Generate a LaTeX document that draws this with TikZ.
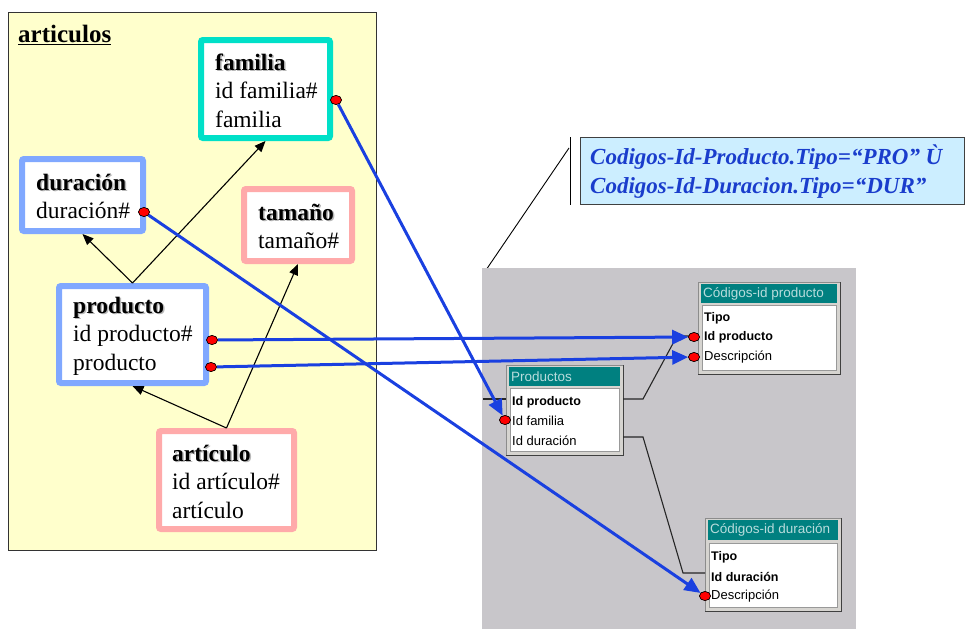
\documentclass[tikz,border=0pt]{standalone}
\usepackage{fontspec}
\setmainfont{Liberation Serif}
\newfontfamily\winfont{Liberation Sans}
\usetikzlibrary{arrows.meta,shapes.geometric}

\definecolor{panelyellow}{HTML}{FFFFCC}
\definecolor{famteal}{HTML}{00E0C8}
\definecolor{durblue}{HTML}{80A8FF}
\definecolor{tampink}{HTML}{FFAAAA}
\definecolor{linkblue}{HTML}{1A40E0}
\definecolor{accgray}{HTML}{C8C6CA}
\definecolor{wingray}{HTML}{D6D4D0}
\definecolor{winteal}{HTML}{008080}
\definecolor{wintext}{HTML}{B8DCDC}
\definecolor{notefill}{HTML}{CCEEFF}
\definecolor{notetext}{HTML}{1A3DCC}

% bold heading with a soft grey drop shadow
\newcommand\shadowtitle[1]{\rlap{\textcolor{black!28}{\kern1.5pt\raisebox{-1.5pt}{\textbf{#1}}}}\textbf{#1}}

\begin{document}
\begin{tikzpicture}[x=1pt,y=-1pt,
  entity/.style={draw, line width=6pt, fill=white, rounded corners=2pt, inner sep=0pt},
  entitytext/.style={anchor=west, align=left, inner sep=0pt, font=\fontsize{23.5}{28.5}\selectfont},
  reddot/.style={ellipse, draw=black, line width=0.6pt, fill=red, minimum width=11pt, minimum height=9pt, inner sep=0pt},
  isa/.style={draw=black, line width=1.1pt, -{Triangle[length=11pt,width=9pt]}},
  link/.style={draw=linkblue, line width=3pt, -{Triangle[length=16pt,width=14pt]}},
  winframe/.style={fill=wingray, draw=black!45, line width=0.6pt, inner sep=0pt},
  wintitle/.style={fill=winteal, inner sep=0pt},
  winbody/.style={fill=white, draw=black!40, line width=0.6pt, inner sep=0pt},
  titletext/.style={anchor=west, inner sep=0pt, text=wintext, font=\winfont\fontsize{13.5}{15}\selectfont},
  field/.style={anchor=west, inner sep=0pt, font=\winfont\fontsize{13}{15}\selectfont},
  keyfield/.style={field, font=\winfont\bfseries\fontsize{12.5}{15}\selectfont},
  rel/.style={draw=black!85, line width=1.1pt},
  notebox/.style={draw=black!75, line width=0.8pt, fill=notefill, inner sep=0pt}
]
\useasboundingbox (0,0) rectangle (965,629);

% ---------------- conceptual model panel ----------------
\node[draw=black!80, line width=0.8pt, fill=panelyellow, anchor=north west,
      minimum width=368, minimum height=538, inner sep=0pt] (panel) at (8,12) {};
\node[anchor=west, inner sep=0pt, font=\bfseries\fontsize{25}{30}\selectfont] (ptitle) at (18,35) {\underline{articulos}};

\node[entity, draw=famteal, minimum width=129, minimum height=98] (fam) at (265.5,89) {};
\node[entitytext] (famtxt) at ([xshift=17pt,yshift=-1.5pt]fam.west) {\shadowtitle{familia}\\id familia\#\\familia};

\node[entity, draw=durblue, minimum width=121, minimum height=72] (dur) at (82.5,195) {};
\node[entitytext] (durtxt) at ([xshift=17pt,yshift=-1.5pt]dur.west) {\shadowtitle{duración}\\duración\#};

\node[entity, draw=tampink, minimum width=108, minimum height=72] (tam) at (298,225) {};
\node[entitytext] (tamtxt) at ([xshift=17pt,yshift=-1.5pt]tam.west) {\shadowtitle{tamaño}\\tamaño\#};

\node[entity, draw=durblue, minimum width=147, minimum height=97] (prod) at (132.5,334.5) {};
\node[entitytext] (prodtxt) at ([xshift=17pt,yshift=-1.5pt]prod.west) {\shadowtitle{producto}\\id producto\#\\producto};

\node[entity, draw=tampink, minimum width=135, minimum height=98] (art) at (226.5,480) {};
\node[entitytext] (arttxt) at ([xshift=16pt,yshift=-1.5pt]art.west) {\shadowtitle{artículo}\\id artículo\#\\artículo};

% generalisation arrows
\draw[isa] (prod.north) -- (dur.south);
\draw[isa] (prod.north) -- (fam.south);
\draw[isa] (art.north) -- (prod.south);
\draw[isa] (art.north) -- (tam.south);

% ---------------- callout ----------------
\node[notebox, anchor=north west, minimum width=384, minimum height=67] (note) at (580,137) {};
\node[anchor=west, align=left, inner sep=0pt, text=notetext,
      font=\bfseries\itshape\fontsize{23}{29}\selectfont] (notetxt) at (590,172)
      {Codigos-Id-Producto.Tipo=“PRO” Ù\\Codigos-Id-Duracion.Tipo=“DUR”};
\coordinate (barTop) at (570,137);
\coordinate (barBot) at (570,205);
\coordinate (barJoin) at (569,148);
\coordinate (ptrTip) at (486,270);
\draw[black, line width=0.9pt] (barTop) -- (barBot);
\draw[black, line width=0.9pt] (ptrTip) -- (barJoin);

% ---------------- relationships screen ----------------
\node[fill=accgray, anchor=north west, minimum width=374, minimum height=361, inner sep=0pt] (screen) at (482,268) {};

% Códigos-id producto
\node[winframe, anchor=north west, minimum width=142, minimum height=92] (cp) at (698,282) {};
\draw[black!75, line width=1.6pt] (cp.north east) -- (cp.south east) -- (cp.south west);
\node[wintitle, anchor=north west, minimum width=136, minimum height=19] (cpT) at (701,284) {};
\node[titletext] (cpTt) at ([xshift=2pt]cpT.west) {Códigos-id producto};
\node[winbody, anchor=north west, minimum width=134, minimum height=65] (cpB) at (702,305) {};
\node[keyfield] (cpF1) at (704,318) {Tipo};
\node[keyfield] (cpF2) at (704,337) {Id producto};
\node[field] (cpF3) at (704,357) {Descripción};

% Productos
\node[winframe, anchor=north west, minimum width=117, minimum height=90] (pr) at (506,365) {};
\draw[black!75, line width=1.6pt] (pr.north east) -- (pr.south east) -- (pr.south west);
\node[wintitle, anchor=north west, minimum width=111, minimum height=19] (prT) at (509,367) {};
\node[titletext] (prTt) at ([xshift=2pt]prT.west) {Productos};
\node[winbody, anchor=north west, minimum width=109, minimum height=63] (prB) at (510,388) {};
\node[keyfield] (prF1) at (512,402) {Id producto};
\node[field] (prF2) at (512,421) {Id familia};
\node[field] (prF3) at (512,441) {Id duración};

% Códigos-id duración
\node[winframe, anchor=north west, minimum width=136, minimum height=93] (cd) at (705,518) {};
\draw[black!75, line width=1.6pt] (cd.north east) -- (cd.south east) -- (cd.south west);
\node[wintitle, anchor=north west, minimum width=130, minimum height=20] (cdT) at (708,520) {};
\node[titletext] (cdTt) at ([xshift=2pt]cdT.west) {Códigos-id duración};
\node[winbody, anchor=north west, minimum width=128, minimum height=64] (cdB) at (709,543) {};
\node[keyfield] (cdF1) at (711,557) {Tipo};
\node[keyfield] (cdF2) at (711,577) {Id duración};
\node[field] (cdF3) at (711,596) {Descripción};

% join lines between the tables
\coordinate (r0a) at (483,399);
\coordinate (r1a) at (623,399);
\coordinate (r1b) at (643,399);
\coordinate (r1c) at (677,336);
\coordinate (r1d) at (698,336);
\coordinate (r2a) at (623,437);
\coordinate (r2b) at (643,437);
\coordinate (r2c) at (683,573);
\coordinate (r2d) at (705,573);
\draw[rel] (r0a) -- (pr.west |- r0a);
\draw[rel] (r1a) -- (r1b) -- (r1c) -- (r1d);
\draw[rel] (r2a) -- (r2b) -- (r2c) -- (r2d);

% ---------------- attribute links ----------------
\node[reddot] (dFam) at (336,100) {};
\node[reddot] (dDur) at (144,212) {};
\node[reddot] (dProdId) at (212,340) {};
\node[reddot] (dProdNm) at (211,367) {};
\node[reddot] (dPrFam) at (505,420) {};
\node[reddot] (dCpId) at (694,337) {};
\node[reddot] (dCpDesc) at (694,357) {};
\node[reddot] (dCdDesc) at (705,596) {};

\draw[link] (dFam) -- (dPrFam);
\draw[link] (dDur) -- (dCdDesc);
\draw[link] (dProdId) -- (dCpId);
\draw[link] (dProdNm) -- (dCpDesc);

% dots on top of the link ends
\node[reddot] at (dFam) {};
\node[reddot] at (dDur) {};
\node[reddot] at (dProdId) {};
\node[reddot] at (dProdNm) {};
\node[reddot] at (dPrFam) {};
\node[reddot] at (dCpId) {};
\node[reddot] at (dCpDesc) {};
\node[reddot] at (dCdDesc) {};
\end{tikzpicture}
\end{document}
